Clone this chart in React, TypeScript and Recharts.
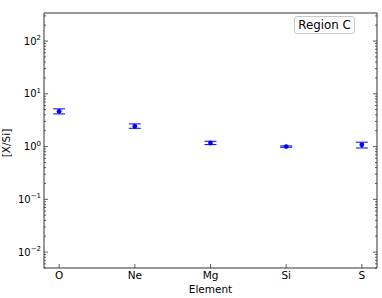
import { ScatterChart, Scatter, XAxis, YAxis, ErrorBar, ReferenceArea } from 'recharts'

const elements = ['O', 'Ne', 'Mg', 'Si', 'S']
const ratios = [4.65, 2.42, 1.17, 1.0, 1.08]
const errLow = [0.49, 0.2, 0.08, 0.03, 0.14]
const errHigh = [0.53, 0.27, 0.09, 0.03, 0.13]

const majorTicks = [0.01, 0.1, 1, 10, 100]
const tickExponents = ['\u22122', '\u22121', '0', '1', '2']
const minorSteps = [2, 3, 4, 5, 6, 7, 8, 9]
const yDomain = [0.005, 340]

const W = 382
const H = 298
const MARGIN = { top: 13, right: 5, bottom: 0, left: 0 }
const Y_AXIS_W = 44
const X_AXIS_H = 30
const PLOT_W = W - MARGIN.left - MARGIN.right - Y_AXIS_W

const data = elements.map((name, i) => ({
  x: i,
  name,
  value: ratios[i],
  err: [errLow[i], errHigh[i]],
}))

const minorTicks = [0.001, ...majorTicks]
  .flatMap(m => minorSteps.map(s => +(m * s).toPrecision(3)))
  .filter(v => v >= yDomain[0] && v <= yDomain[1])
const yTicks = [...majorTicks, ...minorTicks].sort((a, b) => a - b)

const FONT = 'DejaVu Sans, sans-serif'
const AXIS_COLOR = '#333'

function YTick(props: any) {
  const { x, y, payload } = props
  const idx = majorTicks.indexOf(payload.value)
  const len = idx >= 0 ? 4 : 2
  return (
    <g>
      <line x1={x} x2={x + len} y1={y} y2={y} stroke={AXIS_COLOR} strokeWidth={0.8} />
      <line x1={x + PLOT_W} x2={x + PLOT_W - len} y1={y} y2={y} stroke={AXIS_COLOR} strokeWidth={0.8} />
      {idx >= 0 && (
        <text x={x - 3} y={y + 3.5} textAnchor="end" fontSize={10} fontFamily={FONT} fill="#000">
          10
          <tspan dy={-4.5} fontSize={7}>{tickExponents[idx]}</tspan>
        </text>
      )}
    </g>
  )
}

function XTick(props: any) {
  const { x, y, payload } = props
  return (
    <g>
      <line x1={x} x2={x} y1={y} y2={y - 4} stroke={AXIS_COLOR} strokeWidth={0.8} />
      <text x={x} y={y + 11} textAnchor="middle" fontSize={10.5} fontFamily={FONT} fill="#000">
        {elements[payload.value]}
      </text>
    </g>
  )
}

function Dot(props: any) {
  const { cx, cy } = props
  return <circle cx={cx} cy={cy} r={2.4} fill="#0000ff" />
}

export default function App() {
  return (
    <div style={{ position: 'absolute', left: 0, top: 0, width: W, height: H, background: '#fff' }}>
      <ScatterChart width={W} height={H} margin={MARGIN}>
        <XAxis
          type="number"
          dataKey="x"
          domain={[-0.2, 4.2]}
          ticks={[0, 1, 2, 3, 4]}
          interval={0}
          height={X_AXIS_H}
          tickSize={0}
          tickMargin={0}
          tick={<XTick />}
          axisLine={false}
          allowDataOverflow
          label={{
            value: 'Element',
            position: 'insideBottom',
            offset: 5,
            fontSize: 10.5,
            fontFamily: FONT,
            fill: '#000',
          }}
        />
        <YAxis
          type="number"
          dataKey="value"
          scale="log"
          domain={yDomain}
          ticks={yTicks}
          interval={0}
          width={Y_AXIS_W}
          tickSize={0}
          tickMargin={0}
          tick={<YTick />}
          axisLine={false}
          allowDataOverflow
          label={{
            content: () => (
              <text
                x={10}
                y={143}
                transform="rotate(-90 10 143)"
                textAnchor="middle"
                fontSize={10.5}
                fontFamily={FONT}
                fill="#000"
              >
                [X/Si]
              </text>
            ),
          }}
        />
        <ReferenceArea
          x1={-0.2}
          x2={4.2}
          y1={yDomain[0]}
          y2={yDomain[1]}
          fill="none"
          fillOpacity={0}
          stroke={AXIS_COLOR}
          strokeWidth={1}
          ifOverflow="visible"
        />
        <Scatter data={data} shape={<Dot />} isAnimationActive={false}>
          <ErrorBar dataKey="err" direction="y" width={6} stroke="#0000ff" strokeWidth={1} />
        </Scatter>
      </ScatterChart>
      <div
        style={{
          position: 'absolute',
          left: 294,
          top: 16,
          width: 61,
          height: 18,
          boxSizing: 'border-box',
          border: '1px solid #c8c8c8',
          borderRadius: 3,
          fontFamily: FONT,
          fontSize: 11.8,
          lineHeight: '16px',
          textAlign: 'center',
          color: '#000',
        }}
      >
        Region C
      </div>
    </div>
  )
}
